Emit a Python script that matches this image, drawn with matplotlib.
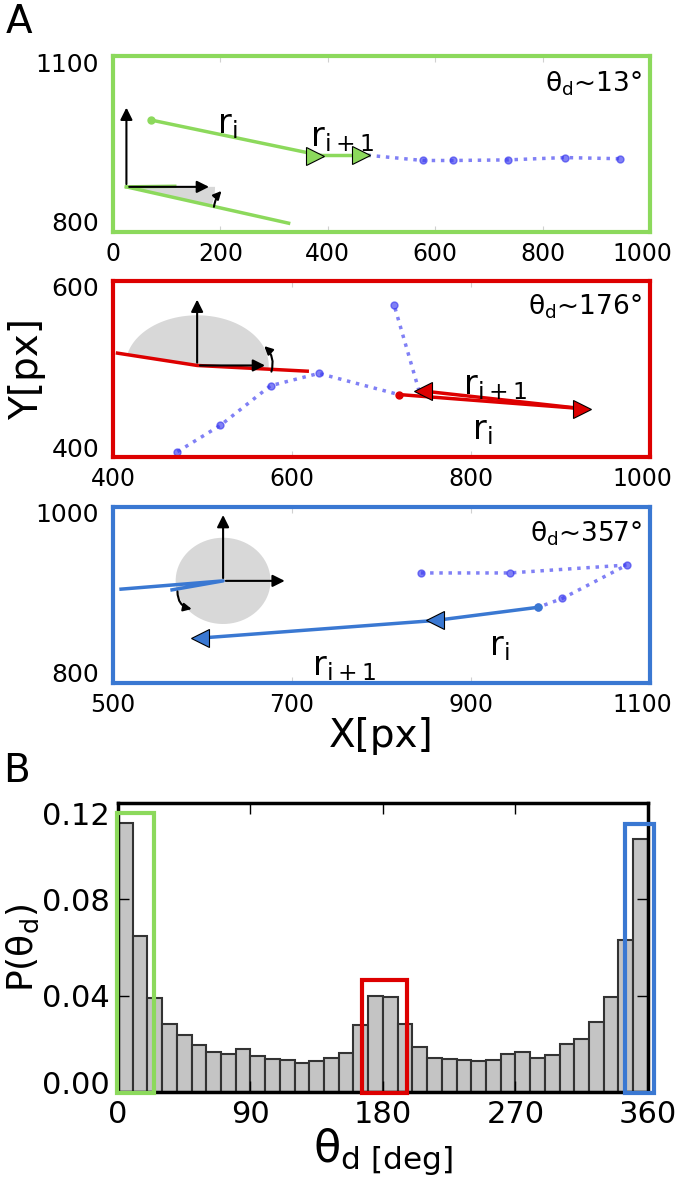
import numpy as np
import matplotlib
matplotlib.use("Agg")
import matplotlib.pyplot as plt
from matplotlib.transforms import ScaledTranslation

plt.rcParams['font.family'] = ['DejaVu Sans']
plt.rcParams['mathtext.default'] = 'regular'
plt.rcParams['font.size'] = 18

GREEN = '#8cd95c'
RED = '#dd0000'
BLUE = '#3a78d2'
TRAJ = '#3c3cf0'

# ---- panel A data (pixel coords) ----
p1_traj_x = [474, 577, 633, 735, 841, 944]
p1_traj_y = [931, 922, 922, 923, 927, 925]
p1_ri_x = [71, 390]
p1_ri_y = [991, 930]
p1_ri1_x = [390, 474]
p1_ri1_y = [931, 931]
p1_origin = (25, 877)

p2_traj_x = [472, 520, 576, 630, 719]
p2_traj_y = [406, 436, 481, 495, 471]
p2_tail_x = [742, 714]
p2_tail_y = [475, 573]
p2_ri_x = [719, 924]
p2_ri_y = [471, 455]
p2_ri1_x = [924, 746]
p2_ri1_y = [455, 475]
p2_origin = (494, 504)

p3_traj_x = [844, 943, 1074, 1002, 975]
p3_traj_y = [925, 925, 934, 896, 886]
p3_ri_x = [975, 860]
p3_ri_y = [886, 871]
p3_ri1_x = [860, 597]
p3_ri1_y = [871, 851]
p3_origin = (623, 916)

# ---- panel B data ----
bin_left = np.arange(0, 360, 10)
p_theta = [0.1117, 0.0646, 0.0392, 0.0283, 0.0238, 0.0197, 0.0168, 0.0158, 0.0178,
           0.0150, 0.0135, 0.0133, 0.0121, 0.0128, 0.0143, 0.0160, 0.0278, 0.0397,
           0.0393, 0.0282, 0.0186, 0.0142, 0.0138, 0.0133, 0.0128, 0.0131, 0.0158,
           0.0168, 0.0143, 0.0153, 0.0199, 0.0221, 0.0289, 0.0396, 0.0629, 0.1050]


def shift(label, dx, dy):
    label.set_transform(label.get_transform() +
                        ScaledTranslation(dx / 100, dy / 100, fig.dpi_scale_trans))


def gray_wedge(ax, c, rx, ry, t1, t2):
    t = np.radians(np.linspace(t1, t2, 80))
    xs = np.r_[c[0], c[0] + rx * np.cos(t)]
    ys = np.r_[c[1], c[1] + ry * np.sin(t)]
    ax.fill(xs, ys, color='#d8d8d8', lw=0, zorder=1)


def frame(ax, c, up, right):
    kw = dict(arrowstyle='-|>', color='k', lw=1.5, mutation_scale=18)
    ax.annotate('', xy=(c[0], up), xytext=c, arrowprops=kw, zorder=5)
    ax.annotate('', xy=(right, c[1]), xytext=c, arrowprops=kw, zorder=5)


def curl(ax, a, b, rad):
    ax.annotate('', xy=b, xytext=a, zorder=5,
                arrowprops=dict(arrowstyle='-|>', color='k', lw=1.5,
                                mutation_scale=12, shrinkA=0, shrinkB=0,
                                connectionstyle='arc3,rad=%s' % rad))


def style_panel(ax, color, xlim, ylim, xt, yt):
    ax.set_xlim(xlim)
    ax.set_ylim(ylim)
    ax.set_xticks(xt)
    ax.set_yticks(yt)
    for s in ax.spines.values():
        s.set_color(color)
        s.set_linewidth(3)
    ax.tick_params(direction='in', length=4, color='#d0d0d0', top=True, right=True)
    ax.tick_params(axis='x', labelsize=17, pad=7)
    ax.tick_params(axis='y', labelsize=18, pad=10)
    labs = ax.get_yticklabels()
    shift(labs[0], 0, 10)
    shift(labs[-1], 0, -6)
    shift(ax.get_xticklabels()[-1], -8, 0)


fig = plt.figure(figsize=(6.75, 11.8), dpi=100)

# panel 1
ax1 = fig.add_axes([0.1674, 0.8034, 0.7956, 0.149])
style_panel(ax1, GREEN, (0, 1000), (800, 1100), range(0, 1001, 200), [800, 1100])
ax1.plot(p1_traj_x, p1_traj_y, ':', color=TRAJ, alpha=0.65, lw=2.5, marker='o', ms=5,
         markevery=list(range(1, len(p1_traj_x))))
gray_wedge(ax1, p1_origin, 165, 115, -16, 0)
ax1.plot(p1_ri_x, p1_ri_y, color=GREEN, lw=2.5)
ax1.plot(p1_ri_x[0], p1_ri_y[0], 'o', color=GREEN, ms=5)
ax1.plot(p1_ri1_x, p1_ri1_y, color=GREEN, lw=2.5)
ax1.plot([376, 462], [930, 931], '>', color=GREEN, mec='k', mew=0.8, ms=13, zorder=6)
ax1.plot([p1_origin[0], 115], [p1_origin[1], 878], color=GREEN, lw=2.5, zorder=3)
ax1.plot([p1_origin[0], 327], [p1_origin[1], 815], color=GREEN, lw=2.5, zorder=3)
frame(ax1, p1_origin, 1017, 184)
curl(ax1, (188, 843), (202, 870), -0.15)
ax1.text(212, 983, '$r_i$', fontsize=24, ha='center', va='center')
ax1.text(426, 961, '$r_{i+1}$', fontsize=24, ha='center', va='center')
ax1.text(0.985, 0.845, r'$\theta_d$~13°', transform=ax1.transAxes, fontsize=19,
         ha='right', va='center')

# panel 2
ax2 = fig.add_axes([0.1674, 0.6127, 0.7956, 0.1492])
style_panel(ax2, RED, (400, 1000), (400, 600), [400, 600, 800, 1000], [400, 600])
ax2.plot(p2_traj_x, p2_traj_y, ':', color=TRAJ, alpha=0.65, lw=2.5, marker='o', ms=5,
         markevery=list(range(len(p2_traj_x) - 1)))
ax2.plot(p2_tail_x, p2_tail_y, ':', color=TRAJ, alpha=0.65, lw=2.5, marker='o', ms=5,
         markevery=[1])
gray_wedge(ax2, p2_origin, 80, 57, -4, 168)
ax2.plot(p2_ri_x, p2_ri_y, color=RED, lw=2.5)
ax2.plot(p2_ri_x[0], p2_ri_y[0], 'o', color=RED, ms=5)
ax2.plot(p2_ri1_x, p2_ri1_y, color=RED, lw=2.5)
ax2.plot([924], [455], '>', color=RED, mec='k', mew=0.8, ms=13, zorder=6)
ax2.plot([746], [475], '<', color=RED, mec='k', mew=0.8, ms=13, zorder=6)
ax2.plot([405, p2_origin[0], 617], [518, p2_origin[1], 497.5], color=RED, lw=2.5, zorder=3)
frame(ax2, p2_origin, 582, 573)
curl(ax2, (577, 497), (569, 526), 0.3)
ax2.text(827, 481, '$r_{i+1}$', fontsize=24, ha='center', va='center')
ax2.text(813, 430, '$r_i$', fontsize=24, ha='center', va='center')
ax2.text(0.985, 0.855, r'$\theta_d$~176°', transform=ax2.transAxes, fontsize=19,
         ha='right', va='center')
ax2.set_ylabel('Y[px]', fontsize=28)
ax2.yaxis.set_label_coords(-0.125, 0.5)

# panel 3
ax3 = fig.add_axes([0.1674, 0.4212, 0.7956, 0.1492])
style_panel(ax3, BLUE, (500, 1100), (800, 1000), [500, 700, 900, 1100], [800, 1000])
ax3.plot(p3_traj_x, p3_traj_y, ':', color=TRAJ, alpha=0.65, lw=2.5, marker='o', ms=5)
gray_wedge(ax3, p3_origin, 53, 49, 0, 360)
ax3.plot(p3_ri_x, p3_ri_y, color=BLUE, lw=2.5)
ax3.plot(p3_ri_x[0], p3_ri_y[0], 'o', color=BLUE, ms=5)
ax3.plot(p3_ri1_x, p3_ri1_y, color=BLUE, lw=2.5)
ax3.plot([860, 597], [871, 851], '<', color=BLUE, mec='k', mew=0.8, ms=13, zorder=6)
ax3.plot([509, p3_origin[0], 566], [906.6, p3_origin[1], 905.8], color=BLUE, lw=2.5, zorder=3)
frame(ax3, p3_origin, 994, 695)
curl(ax3, (572, 904), (588, 884), 0.4)
ax3.text(932, 841, '$r_i$', fontsize=24, ha='center', va='center')
ax3.text(758, 819, '$r_{i+1}$', fontsize=24, ha='center', va='center')
ax3.text(0.985, 0.845, r'$\theta_d$~357°', transform=ax3.transAxes, fontsize=19,
         ha='right', va='center')
ax3.set_xlabel('X[px]', fontsize=28, labelpad=0)

# panel B histogram
axh = fig.add_axes([0.1748, 0.0746, 0.785, 0.2449])
axh.bar(bin_left, p_theta, width=10, align='edge', color='#c4c4c4',
        edgecolor='#333333', lw=1.5)
axh.set_xlim(0, 360)
axh.set_ylim(0, 0.12)
axh.set_xticks([0, 90, 180, 270, 360])
axh.set_yticks([0.0, 0.04, 0.08, 0.12])
axh.set_yticklabels(['0.00', '0.04', '0.08', '0.12'])
axh.tick_params(direction='in', length=8, width=1, labelsize=22, top=True, right=True,
                pad=6)
hl = axh.get_yticklabels()
shift(hl[0], 0, 9)
shift(hl[-1], 0, -11)
for s in axh.spines.values():
    s.set_linewidth(2.5)
for (x0, x1, top), c in zip([(-1, 24.8, 0.1158), (165.8, 196.4, 0.0467),
                             (344.5, 364.5, 0.1112)], [GREEN, RED, BLUE]):
    axh.add_patch(plt.Rectangle((x0, -0.0006), x1 - x0, top + 0.0006, fill=False,
                                ec=c, lw=3, clip_on=False, zorder=5))
axh.set_xlabel(r'$\theta_{d\ [deg]}$', fontsize=32, labelpad=-2)
axh.set_ylabel(r'P($\theta_d$)', fontsize=26)
axh.yaxis.set_label_coords(-0.145, 0.5)

fig.text(0.008, 0.981, 'A', fontsize=28, ha='left', va='center')
fig.text(0.005, 0.347, 'B', fontsize=28, ha='left', va='center')

fig.savefig('out.png', dpi=100)
